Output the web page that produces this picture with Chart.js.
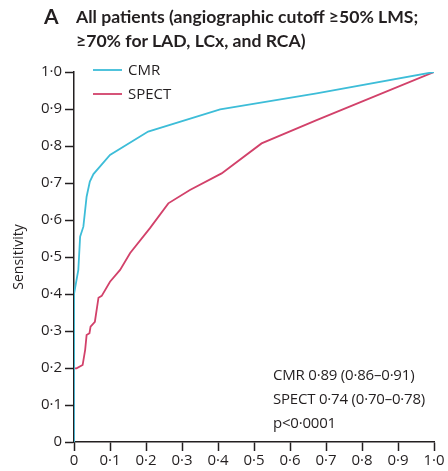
<!DOCTYPE html>
<html>
<head>
<meta charset="utf-8">
<script src="https://cdn.jsdelivr.net/npm/chart.js@4.4.1/dist/chart.umd.min.js"></script>
<style>
  html, body { margin: 0; padding: 0; background: #fff; }
  #wrap { position: relative; width: 448px; height: 471px; overflow: hidden; }
  #chart { position: absolute; left: 0; top: 0; }
  .panel { position: absolute; left: 44px; top: 3px; font-family: Lato, sans-serif; font-weight: 700; font-size: 21px; color: #231f20; }
  .title { position: absolute; left: 76px; top: 5px; font-family: Lato, sans-serif; font-weight: 700; font-size: 17.6px; line-height: 24px; color: #231f20; }
  .stats { position: absolute; left: 273px; top: 362px; font-family: "Open Sans", sans-serif; font-size: 15px; line-height: 24px; color: #231f20; letter-spacing: -0.2px; }
</style>
</head>
<body>
<div id="wrap">
  <canvas id="chart" width="448" height="471"></canvas>
  <div class="panel">A</div>
  <div class="title">All patients (angiographic cutoff ≥50% LMS;<br>≥70% for LAD, LCx, and RCA)</div>
  <div class="stats">CMR 0·89 (0·86–0·91)<br>SPECT 0·74 (0·70–0·78)<br>p&lt;0·0001</div>
</div>
<script>
// 1 - specificity / sensitivity
const cmrFpr  = [0, 0, 0.012, 0.017, 0.026, 0.035, 0.044, 0.054, 0.1, 0.206, 0.406, 0.674, 1];
const cmrSens = [0, 0.40, 0.465, 0.555, 0.582, 0.663, 0.704, 0.724, 0.776, 0.839, 0.899, 0.942, 1];

const spectFpr  = [0, 0, 0.007, 0.024, 0.031, 0.035, 0.043, 0.046, 0.058, 0.068, 0.077, 0.1, 0.128, 0.156, 0.211, 0.262, 0.322, 0.41, 0.521, 0.674, 1];
const spectSens = [0, 0.199, 0.199, 0.208, 0.249, 0.289, 0.294, 0.312, 0.325, 0.39, 0.395, 0.433, 0.465, 0.511, 0.578, 0.645, 0.681, 0.726, 0.807, 0.87, 1];

const tickLabels = ['0', '0·1', '0·2', '0·3', '0·4', '0·5', '0·6', '0·7', '0·8', '0·9', '1·0'];

const seriesNames = ['CMR', 'SPECT'];
const seriesColors = ['#3dbdd8', '#d2416a'];

const inkColor = '#231f20';

function toPoints(xs, ys) {
    return xs.map((x, i) => ({ x: x, y: ys[i] }));
}

function tickText(value) {
    let i = Math.round(value * 10);
    return tickLabels[i];
}

// legend drawn inside the plot, top left
const innerLegend = {
    id: 'innerLegend',
    afterDatasetsDraw(chart) {
        const ctx = chart.ctx;
        const area = chart.chartArea;
        ctx.save();
        chart.data.datasets.forEach((ds, i) => {
            let y = area.top - 2 + i * 24;
            ctx.strokeStyle = ds.borderColor;
            ctx.lineWidth = 1.8;
            ctx.beginPath();
            ctx.moveTo(area.left + 19, y);
            ctx.lineTo(area.left + 48, y);
            ctx.stroke();
            ctx.fillStyle = inkColor;
            ctx.font = '15px "Open Sans", sans-serif';
            ctx.textBaseline = 'middle';
            ctx.fillText(ds.label, area.left + 54, y + 1);
        });
        ctx.restore();
    }
};

const axisStyle = {
    min: 0,
    max: 1,
    border: { display: true, color: inkColor, width: 1.5 },
    grid: { drawOnChartArea: false, drawTicks: true, tickLength: 9, tickWidth: 1.5, tickColor: inkColor },
    ticks: {
        stepSize: 0.1,
        color: inkColor,
        font: { family: '"Open Sans", sans-serif', size: 15 },
        callback: tickText
    }
};

new Chart(document.getElementById('chart'), {
    type: 'line',
    data: {
        datasets: [
            {
                label: seriesNames[0],
                data: toPoints(cmrFpr, cmrSens),
                borderColor: seriesColors[0],
                borderWidth: 1.8,
                pointRadius: 0,
                tension: 0,
                order: 1
            },
            {
                label: seriesNames[1],
                data: toPoints(spectFpr, spectSens),
                borderColor: seriesColors[1],
                borderWidth: 1.8,
                pointRadius: 0,
                tension: 0,
                order: 2
            }
        ]
    },
    options: {
        responsive: false,
        animation: false,
        layout: { padding: { top: 72, right: 14, left: 0, bottom: 0 } },
        plugins: {
            legend: { display: false },
            tooltip: { enabled: false }
        },
        scales: {
            x: Object.assign({}, axisStyle, {
                type: 'linear',
                ticks: Object.assign({}, axisStyle.ticks, { padding: 1, maxRotation: 0 }),
                afterFit: (scale) => { scale.height = 29; }
            }),
            y: Object.assign({}, axisStyle, {
                type: 'linear',
                ticks: Object.assign({}, axisStyle.ticks, { padding: 3 }),
                title: {
                    display: true,
                    text: 'Sensitivity',
                    color: inkColor,
                    font: { family: '"Open Sans", sans-serif', size: 14 },
                    padding: { top: 11, bottom: 0 }
                },
                afterFit: (scale) => { scale.width = 74; }
            })
        }
    },
    plugins: [innerLegend]
});
</script>
</body>
</html>
